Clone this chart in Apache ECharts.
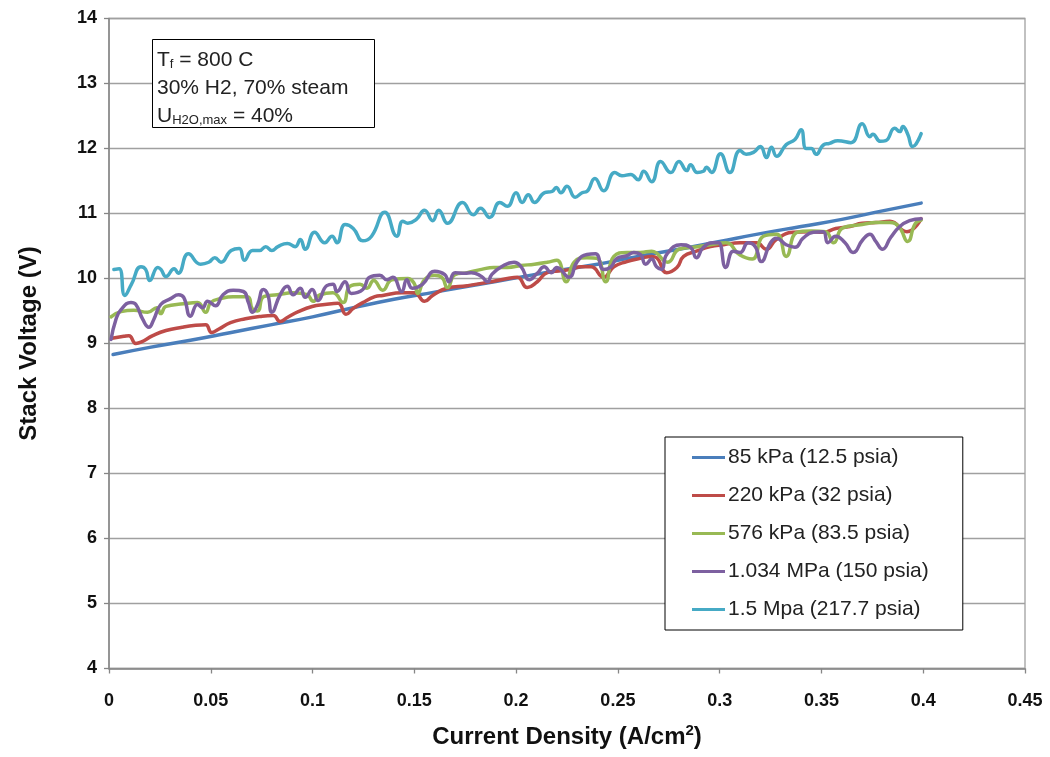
<!DOCTYPE html>
<html>
<head>
<meta charset="utf-8">
<script src="https://cdn.jsdelivr.net/npm/echarts@6/dist/echarts.min.js"></script>
<style>html,body{margin:0;padding:0;background:#fff;}#c{width:1050px;height:757px;}</style>
</head>
<body>
<div id="c"></div>
<script>
// ---- data ----
var seriesNames = ['85 kPa (12.5 psia)', '220 kPa (32 psia)', '576 kPa (83.5 psia)', '1.034 MPa (150 psia)', '1.5 Mpa (217.7 psia)'];
var xTickLabels = ['0', '0.05', '0.1', '0.15', '0.2', '0.25', '0.3', '0.35', '0.4', '0.45'];
var yTickLabels = ['4', '5', '6', '7', '8', '9', '10', '11', '12', '13', '14'];

var s85kPa = [[0.002,8.83],[0.02,8.94],[0.04,9.05],[0.06,9.17],[0.08,9.29],[0.10,9.41],[0.12,9.55],[0.14,9.68],[0.16,9.79],[0.18,9.90],[0.20,10.01],[0.22,10.12],[0.24,10.22],[0.26,10.34],[0.28,10.45],[0.30,10.57],[0.32,10.69],[0.34,10.80],[0.36,10.91],[0.38,11.04],[0.399,11.16]];

var s220kPa = [[0.0015,9.08],[0.0073,9.11],[0.0098,9.12],[0.0132,9.00],[0.0157,9.02],[0.0215,9.12],[0.028,9.20],[0.036,9.25],[0.0426,9.28],[0.0475,9.29],[0.0504,9.17],[0.0538,9.22],[0.0597,9.32],[0.067,9.38],[0.0753,9.42],[0.0807,9.43],[0.0841,9.34],[0.0876,9.40],[0.093,9.49],[0.0998,9.57],[0.106,9.60],[0.1125,9.62],[0.1164,9.45],[0.120,9.54],[0.1247,9.63],[0.1306,9.72],[0.1345,9.74],[0.1438,9.78],[0.150,9.78],[0.155,9.65],[0.159,9.74],[0.166,9.85],[0.176,9.89],[0.186,9.94],[0.1957,10.00],[0.2006,10.02],[0.2055,9.86],[0.2104,9.95],[0.2153,10.09],[0.222,10.12],[0.227,10.14],[0.232,10.18],[0.2368,10.18],[0.243,10.02],[0.248,10.18],[0.2544,10.26],[0.261,10.31],[0.2666,10.34],[0.269,10.32],[0.274,10.09],[0.279,10.17],[0.2823,10.34],[0.2886,10.42],[0.2955,10.49],[0.302,10.52],[0.310,10.55],[0.318,10.55],[0.323,10.45],[0.3278,10.60],[0.336,10.71],[0.3444,10.72],[0.3508,10.71],[0.357,10.77],[0.364,10.80],[0.370,10.85],[0.3767,10.86],[0.3836,10.88],[0.392,10.72],[0.399,10.92]];

var s576kPa = [[0.001,9.41],[0.0059,9.49],[0.0122,9.51],[0.019,9.48],[0.0235,9.55],[0.0254,9.46],[0.028,9.57],[0.0367,9.61],[0.0435,9.63],[0.0475,9.48],[0.050,9.63],[0.0548,9.69],[0.061,9.72],[0.068,9.72],[0.0705,9.53],[0.073,9.50],[0.076,9.72],[0.0827,9.75],[0.0905,9.78],[0.0974,9.75],[0.1003,9.65],[0.1037,9.75],[0.110,9.78],[0.115,9.63],[0.1184,9.88],[0.1233,9.91],[0.1267,9.85],[0.130,9.97],[0.1345,9.82],[0.139,9.98],[0.1468,10.00],[0.150,9.92],[0.1517,9.77],[0.155,9.98],[0.160,10.05],[0.1634,10.02],[0.1663,9.86],[0.170,10.06],[0.176,10.09],[0.183,10.14],[0.189,10.17],[0.1957,10.17],[0.2025,10.20],[0.209,10.22],[0.2153,10.25],[0.220,10.28],[0.2246,9.95],[0.2285,10.25],[0.2348,10.32],[0.2397,10.31],[0.244,9.95],[0.248,10.34],[0.2544,10.40],[0.261,10.40],[0.2666,10.42],[0.2745,10.25],[0.280,10.45],[0.287,10.48],[0.2955,10.52],[0.303,10.55],[0.310,10.36],[0.316,10.30],[0.3215,10.65],[0.328,10.68],[0.3327,10.34],[0.338,10.71],[0.345,10.73],[0.352,10.72],[0.356,10.55],[0.3605,10.78],[0.370,10.83],[0.3767,10.86],[0.3836,10.86],[0.388,10.80],[0.3924,10.57],[0.396,10.84],[0.399,10.90]];

var s1034MPa = [[0.001,9.06],[0.0034,9.37],[0.0059,9.52],[0.0108,9.63],[0.0132,9.60],[0.0166,9.37],[0.0196,9.25],[0.022,9.37],[0.0254,9.60],[0.0303,9.69],[0.0342,9.75],[0.0367,9.71],[0.040,9.42],[0.0435,9.60],[0.046,9.55],[0.0484,9.65],[0.0523,9.58],[0.056,9.75],[0.061,9.82],[0.066,9.80],[0.0685,9.63],[0.0705,9.48],[0.073,9.60],[0.0758,9.83],[0.078,9.75],[0.080,9.48],[0.0841,9.75],[0.0876,9.88],[0.0905,9.75],[0.094,9.85],[0.0964,9.71],[0.0998,9.83],[0.1027,9.66],[0.107,9.89],[0.110,9.91],[0.112,9.80],[0.116,9.95],[0.119,9.77],[0.1247,9.83],[0.128,10.02],[0.133,10.05],[0.1365,9.98],[0.1394,10.02],[0.1438,9.80],[0.1463,9.98],[0.149,9.85],[0.154,9.91],[0.160,10.11],[0.165,10.06],[0.167,9.95],[0.170,10.09],[0.1747,10.08],[0.178,10.09],[0.183,10.03],[0.186,9.95],[0.188,10.06],[0.1928,10.18],[0.199,10.25],[0.2025,10.18],[0.2065,9.98],[0.2104,10.08],[0.2138,10.18],[0.2172,10.09],[0.220,10.17],[0.226,10.02],[0.230,10.26],[0.2348,10.37],[0.239,10.38],[0.243,10.14],[0.2466,10.18],[0.2495,10.31],[0.2544,10.35],[0.2578,10.40],[0.261,10.37],[0.2637,10.22],[0.2666,10.30],[0.269,10.18],[0.2715,10.14],[0.274,10.37],[0.281,10.52],[0.2857,10.48],[0.2886,10.32],[0.292,10.48],[0.297,10.55],[0.2994,10.55],[0.303,10.17],[0.3067,10.42],[0.310,10.40],[0.314,10.55],[0.3175,10.49],[0.3204,10.26],[0.325,10.55],[0.3278,10.62],[0.3327,10.52],[0.337,10.48],[0.341,10.62],[0.346,10.71],[0.3508,10.72],[0.3532,10.55],[0.357,10.65],[0.3616,10.55],[0.3655,10.40],[0.3704,10.60],[0.3738,10.68],[0.3767,10.57],[0.380,10.45],[0.384,10.63],[0.3885,10.80],[0.3933,10.89],[0.399,10.92]];

var s15MPa = [[0.0024,10.14],[0.005,10.15],[0.0078,9.74],[0.011,9.91],[0.0157,10.18],[0.018,10.14],[0.020,9.97],[0.024,10.17],[0.0255,10.14],[0.028,10.03],[0.032,10.15],[0.034,10.08],[0.039,10.38],[0.045,10.22],[0.049,10.25],[0.052,10.32],[0.055,10.25],[0.060,10.43],[0.064,10.46],[0.0665,10.28],[0.0705,10.43],[0.074,10.43],[0.077,10.49],[0.080,10.43],[0.083,10.49],[0.0876,10.54],[0.0915,10.49],[0.094,10.60],[0.0964,10.45],[0.101,10.71],[0.106,10.55],[0.1096,10.65],[0.112,10.55],[0.116,10.83],[0.120,10.77],[0.1247,10.58],[0.129,10.65],[0.1355,11.02],[0.1414,10.65],[0.1443,10.88],[0.1468,10.85],[0.151,10.91],[0.155,11.05],[0.159,10.89],[0.162,11.05],[0.1663,10.85],[0.1737,11.17],[0.179,10.98],[0.1825,11.08],[0.187,10.94],[0.192,11.17],[0.1957,11.11],[0.200,11.32],[0.203,11.17],[0.206,11.29],[0.209,11.17],[0.214,11.32],[0.2177,11.34],[0.2197,11.40],[0.222,11.32],[0.225,11.42],[0.229,11.25],[0.2324,11.32],[0.2348,11.34],[0.2387,11.54],[0.243,11.35],[0.2485,11.63],[0.252,11.58],[0.2563,11.60],[0.260,11.52],[0.2627,11.65],[0.2666,11.49],[0.271,11.80],[0.276,11.63],[0.280,11.80],[0.2838,11.66],[0.2857,11.75],[0.289,11.63],[0.292,11.65],[0.2935,11.71],[0.296,11.63],[0.3004,11.92],[0.305,11.63],[0.310,11.97],[0.313,11.91],[0.3166,11.94],[0.320,12.03],[0.323,11.86],[0.3254,12.02],[0.328,11.88],[0.3327,12.06],[0.337,12.14],[0.340,12.29],[0.3425,12.00],[0.345,12.00],[0.3474,11.91],[0.3508,12.05],[0.354,12.08],[0.358,12.12],[0.3645,12.09],[0.370,12.38],[0.3738,12.18],[0.3752,12.22],[0.379,12.11],[0.3816,12.12],[0.386,12.31],[0.3885,12.26],[0.390,12.34],[0.3924,12.22],[0.3948,12.03],[0.399,12.23]];

var seriesData = [s85kPa, s220kPa, s576kPa, s1034MPa, s15MPa];
var seriesColors = ['#4A7EBB', '#BE4B48', '#98B954', '#7D60A0', '#46AAC5'];

// ---- chart ----
var FONT = "'Liberation Sans', Arial, sans-serif";
var chart = echarts.init(document.getElementById('c'), null, {renderer: 'canvas'});

var series = seriesNames.map(function (n, i) {
  return {
    name: n, type: 'line', data: seriesData[i], smooth: 0.5, symbol: 'none',
    lineStyle: {color: seriesColors[i], width: 3.5, cap: 'round', join: 'round'}, itemStyle: {color: seriesColors[i]},
    z: 2 + i, animation: false
  };
});

chart.setOption({
  animation: false,
  backgroundColor: '#fff',
  grid: {left: 109, right: 25, top: 18.5, bottom: 88.5, show: true, borderColor: '#a0a0a0', borderWidth: 1.3, backgroundColor: 'transparent'},
  xAxis: {
    type: 'value', min: 0, max: 0.45, interval: 0.05,
    name: 'Current Density (A/cm{sup|2})', nameLocation: 'middle', nameGap: 55,
    nameTextStyle: {fontFamily: FONT, fontWeight: 'bold', fontSize: 24, color: '#111', lineHeight: 28,
      rich: {sup: {fontFamily: FONT, fontWeight: 'bold', fontSize: 15, color: '#111', lineHeight: 15, padding: [0, 0, 13, 0]}}},
    axisLine: {show: true, lineStyle: {color: '#868686', width: 1.5}},
    axisTick: {show: true, inside: false, length: 5, lineStyle: {color: '#868686', width: 1.3}},
    axisLabel: {margin: 24, fontFamily: FONT, fontWeight: 'bold', fontSize: 18, color: '#111',
      formatter: function (v) { return xTickLabels[Math.round(v / 0.05)]; }},
    splitLine: {show: false}
  },
  yAxis: {
    type: 'value', min: 4, max: 14, interval: 1,
    name: 'Stack Voltage (V)', nameLocation: 'middle', nameGap: 68, nameRotate: 90,
    nameTextStyle: {fontFamily: FONT, fontWeight: 'bold', fontSize: 24, color: '#111'},
    axisLine: {show: true, lineStyle: {color: '#868686', width: 1.5}},
    axisTick: {show: true, inside: false, length: 5, lineStyle: {color: '#868686', width: 1.3}},
    axisLabel: {margin: 12, fontFamily: FONT, fontWeight: 'bold', fontSize: 18, color: '#111',
      formatter: function (v) { return yTickLabels[Math.round(v - 4)]; }},
    splitLine: {show: true, lineStyle: {color: '#a0a0a0', width: 1.3}}
  },
  legend: {
    data: seriesNames, orient: 'vertical', left: 665, top: 437,
    padding: [10, 34, 10, 27], itemGap: 17, itemWidth: 33, itemHeight: 3, icon: 'rect',
    backgroundColor: '#fff', borderColor: '#000', borderWidth: 1, borderRadius: 0,
    textStyle: {fontFamily: FONT, fontSize: 21, color: '#222', lineHeight: 20, padding: [0, 0, 0, -2]},
    selectedMode: false
  },
  graphic: [
    {type: 'rect', left: 152, top: 39, z: 100, shape: {width: 222, height: 88},
      style: {fill: '#fff', stroke: '#000', lineWidth: 1}},
    {type: 'text', left: 157, top: 46, z: 101,
      style: {
        text: 'T{s|f} = 800 C\n30% H2, 70% steam\nU{s|H2O,max} = 40%',
        fontFamily: FONT, fontSize: 21, lineHeight: 28, fill: '#222',
        rich: {s: {fontFamily: FONT, fontSize: 13, lineHeight: 14, padding: [9, 0, 0, 0], fill: '#222'}}
      }}
  ],
  series: series
});
</script>
</body>
</html>
